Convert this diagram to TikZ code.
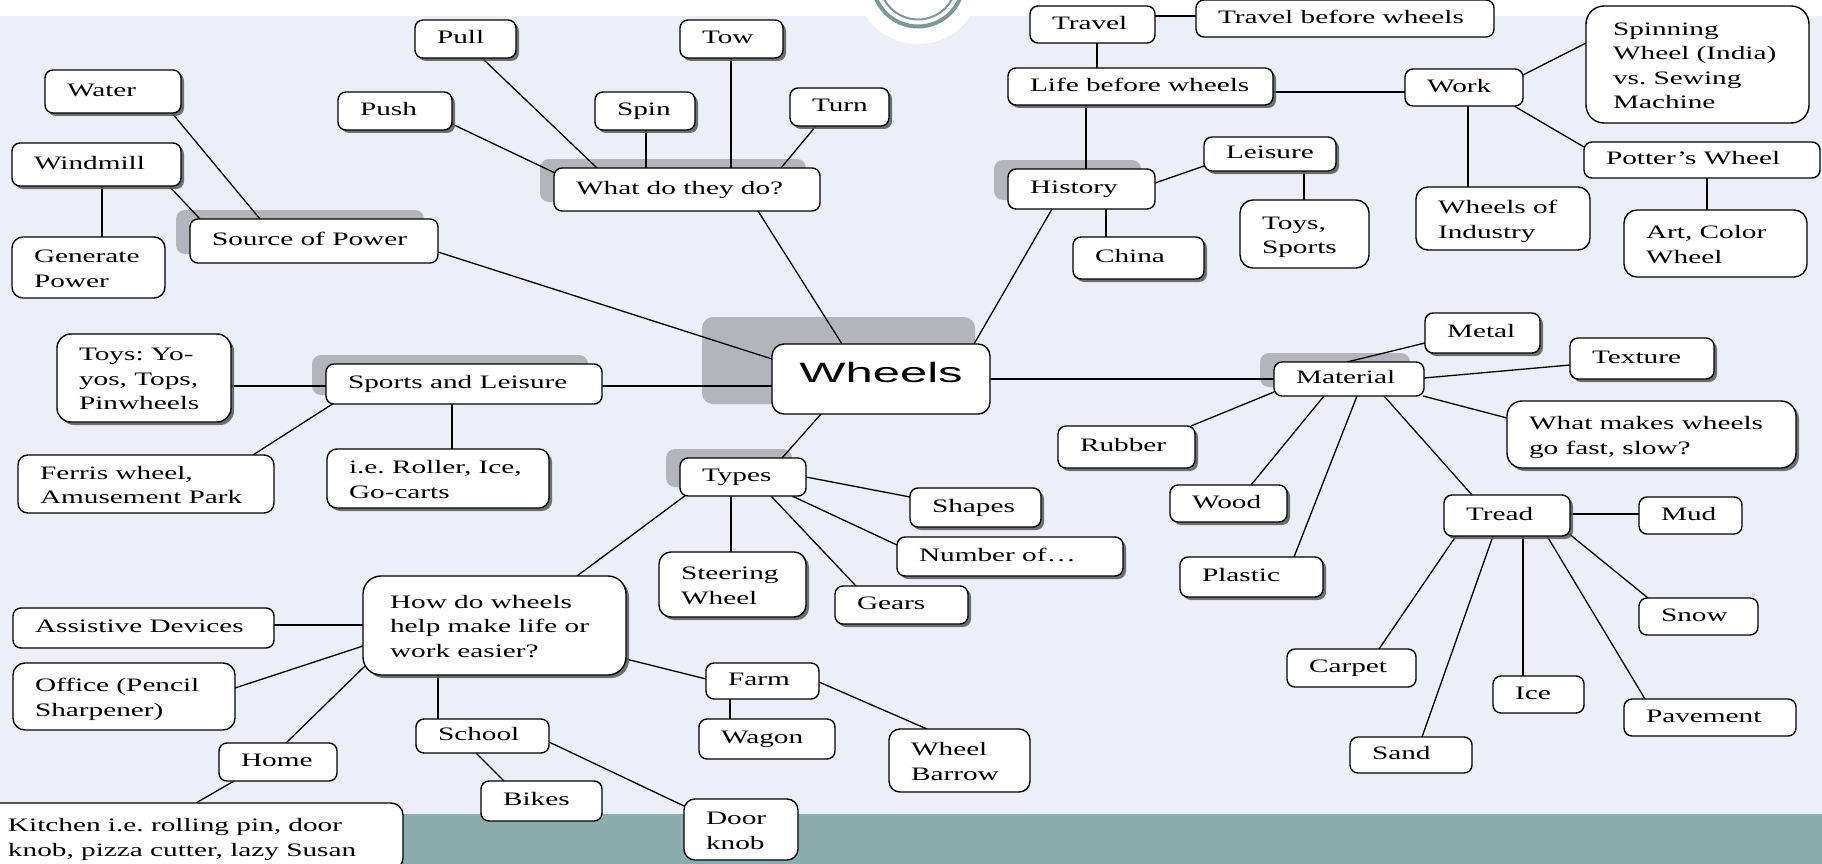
\documentclass[tikz,border=0pt]{standalone}
\usepackage{fontspec}
\setmainfont{Liberation Serif}[FakeStretch=1.54]
\newfontfamily\wheelsfont{Liberation Sans}[FakeStretch=1.75]
\usetikzlibrary{shadows}
\pgfdeclarelayer{bgzero}
\pgfdeclarelayer{bgone}
\pgfsetlayers{bgzero,bgone,main}
\definecolor{lav}{RGB}{236,239,248}
\definecolor{band}{RGB}{139,173,173}
\definecolor{ringc}{RGB}{122,154,154}
\definecolor{backd}{RGB}{180,181,188}
\newcommand\bxraise{0pt}
\tikzset{
  box/.style={draw=black, line width=1.4pt, fill=white, rounded corners=8pt,
    inner xsep=22pt, inner ysep=0pt, outer sep=0pt,
    font=\fontsize{19}{24.5}\selectfont\frenchspacing},
  ml/.code={\def\bxraise{-2.5pt}},
  hub/.style={draw=black, line width=1.4pt, fill=white, rounded corners=12pt,
    inner sep=0pt, outer sep=0pt, font=\wheelsfont\fontsize{28}{34}\selectfont},
  sh/.style={drop shadow={shadow xshift=3pt, shadow yshift=-3pt, fill=black!65, opacity=0.85}},
  conn/.style={draw=black, line width=1.3pt},
  backdrop/.style={fill=backd, rounded corners=9pt},
}
\newcommand\xind{\hspace*{5pt}}
\newcommand\bx[7][]{%
  \pgfmathsetmacro\bxw{#5-(#3)}%
  \pgfmathsetmacro\bxh{#6-(#4)}%
  \pgfmathsetmacro\bxt{#5-(#3)-44}%
  \pgfmathsetmacro\bxcx{((#3)+(#5))/2}%
  \pgfmathsetmacro\bxcy{((#4)+(#6))/2}%
  \node[box,#1,minimum width=\bxw pt,minimum height=\bxh pt] (#2) at (\bxcx,\bxcy)
    {\makebox[\bxt pt][l]{\raisebox{\bxraise}[\height][\depth]{\begin{tabular}{@{}l@{}}#7\end{tabular}}}};}
\begin{document}
\begin{tikzpicture}[x=1pt,y=-1pt]
\useasboundingbox (0,0) rectangle (1822,864);
% ---------- page background ----------
\begin{pgfonlayer}{bgzero}
  \fill[white] (0,0) rectangle (1822,864);
  \fill[lav] (0,16) rectangle (1822,864);
  \fill[band] (0,814) rectangle (1822,864);
  \fill[white] (918,-19) circle[radius=63pt];
  \draw[ringc, line width=4pt] (918,-19) circle[radius=45.5pt];
  \draw[ringc, line width=2pt] (918,-19) circle[radius=38.5pt];
\end{pgfonlayer}
% ---------- nodes ----------
\node[hub, minimum width=218pt, minimum height=70pt] (wheels) at (881,379)
  {\raisebox{7pt}[\height][\depth]{Wheels}};
\bx[sh]{pull}{415}{20}{516}{58}{Pull}
\bx[sh]{tow}{680}{20}{783}{58}{Tow}
\bx[sh]{push}{338}{92}{452}{130}{Push}
\bx[sh]{spin}{595}{92}{695}{130}{Spin}
\bx[sh]{turn}{790}{88}{889}{126}{Turn}
\bx{what}{554}{168}{820}{211}{What do they do?}
\bx[sh]{water}{45}{70}{181}{113}{Water}
\bx[sh]{windmill}{12}{143}{181}{186}{Windmill}
\bx[ml,rounded corners=11pt]{genpow}{12}{237}{165}{298}{Generate\\Power}
\bx{source}{190}{219}{438}{263}{Source of Power}
\bx{travel}{1030}{6}{1155}{43}{Travel}
\bx{travelb}{1196}{0}{1494}{37}{Travel before wheels}
\bx[sh]{life}{1008}{68}{1273}{105}{Life before wheels}
\bx{work}{1405}{69}{1523}{106}{Work}
\bx[ml,rounded corners=18pt]{spinning}{1586}{6}{1809}{123}{\xind Spinning\\\xind Wheel (India)\\\xind vs. Sewing\\\xind Machine}
\bx{potter}{1584}{142}{1820}{178}{Potter’s Wheel}
\bx[ml,rounded corners=12pt]{industry}{1416}{187}{1590}{250}{Wheels of\\Industry}
\bx[ml,rounded corners=13pt]{art}{1624}{210}{1807}{277}{Art, Color\\Wheel}
\bx{history}{1008}{169}{1155}{209}{History}
\bx[sh]{leisure}{1204}{137}{1336}{171}{Leisure}
\bx[ml,rounded corners=13pt]{toyssports}{1240}{200}{1369}{268}{Toys,\\Sports}
\bx[sh]{china}{1073}{237}{1204}{279}{China}
\bx{sports}{326}{364}{602}{404}{Sports and Leisure}
\bx[ml,sh,rounded corners=14pt]{toysyo}{57}{334}{231}{422}{Toys: Yo-\\yos, Tops,\\Pinwheels}
\bx[ml,rounded corners=10pt]{ferris}{18}{455}{274}{513}{Ferris wheel,\\Amusement Park}
\bx[ml,sh,rounded corners=10pt]{roller}{327}{449}{549}{508}{i.e. Roller, Ice,\\Go-carts}
\bx{types}{680}{458}{806}{496}{Types}
\bx[sh]{shapes}{910}{488}{1041}{527}{Shapes}
\bx[sh]{number}{897}{537}{1123}{576}{Number of…}
\bx[ml,sh,rounded corners=12pt]{steering}{659}{552}{806}{617}{Steering\\Wheel}
\bx[sh]{gears}{835}{586}{968}{624}{Gears}
\bx[ml,sh,rounded corners=18pt]{how}{363}{576}{626}{675}{\xind How do wheels\\\xind help make life or\\\xind work easier?}
\bx{assist}{13}{608}{274}{648}{Assistive Devices}
\bx[ml,rounded corners=12pt]{office}{13}{663}{235}{730}{Office (Pencil\\Sharpener)}
\bx{home}{219}{743}{337}{781}{Home}
\bx[ml,rounded corners=12pt]{kitchen}{-14}{803}{403}{870}{Kitchen i.e. rolling pin, door\\knob, pizza cutter, lazy Susan}
\bx{school}{416}{719}{549}{753}{School}
\bx{bikes}{481}{781}{602}{821}{Bikes}
\bx[ml,rounded corners=11pt]{door}{684}{799}{798}{860}{Door\\knob}
\bx{farm}{706}{663}{819}{699}{Farm}
\bx{wagon}{699}{719}{835}{759}{Wagon}
\bx[ml,rounded corners=11pt]{barrow}{889}{729}{1030}{792}{Wheel\\Barrow}
\bx{material}{1274}{362}{1424}{396}{Material}
\bx[sh]{metal}{1425}{313}{1540}{353}{Metal}
\bx[sh]{texture}{1570}{338}{1714}{379}{Texture}
\bx[ml,sh,rounded corners=15pt]{whatmakes}{1507}{401}{1796}{468}{What makes wheels\\go fast, slow?}
\bx[sh]{rubber}{1058}{426}{1195}{468}{Rubber}
\bx[sh]{wood}{1170}{485}{1287}{522}{Wood}
\bx[sh]{plastic}{1180}{557}{1323}{597}{Plastic}
\bx[sh]{tread}{1444}{495}{1570}{536}{Tread}
\bx{mud}{1639}{497}{1742}{534}{Mud}
\bx{snow}{1639}{598}{1758}{635}{Snow}
\bx{carpet}{1287}{649}{1416}{687}{Carpet}
\bx{ice}{1493}{676}{1584}{713}{Ice}
\bx{pavement}{1624}{699}{1796}{736}{Pavement}
\bx{sand}{1350}{737}{1472}{773}{Sand}
% ---------- backdrops and connectors ----------
\begin{pgfonlayer}{bgone}
  \path[backdrop] ([xshift=-14pt,yshift=9pt]source.north west) rectangle ([xshift=-14pt,yshift=9pt]source.south east);
  \path[backdrop] ([xshift=-14pt,yshift=9pt]what.north west) rectangle ([xshift=-14pt,yshift=9pt]what.south east);
  \path[backdrop] ([xshift=-14pt,yshift=9pt]history.north west) rectangle ([xshift=-14pt,yshift=9pt]history.south east);
  \path[backdrop] ([xshift=-14pt,yshift=9pt]sports.north west) rectangle ([xshift=-14pt,yshift=9pt]sports.south east);
  \path[backdrop] ([xshift=-14pt,yshift=9pt]types.north west) rectangle ([xshift=-14pt,yshift=9pt]types.south east);
  \path[backdrop] ([xshift=-14pt,yshift=9pt]material.north west) rectangle ([xshift=-14pt,yshift=9pt]material.south east);
  \path[backdrop, rounded corners=11pt] ([xshift=-70pt,yshift=27pt]wheels.north west) rectangle ([xshift=-15pt,yshift=10pt]wheels.south east);

  \path[conn] ([xshift=127pt,yshift=-43pt]water.north west) -- ([xshift=70pt]source.north west);
  \path[conn] ([xshift=157pt,yshift=-43pt]windmill.north west) -- ([xshift=10pt]source.north west);
  \path[conn] ([xshift=90pt,yshift=-43pt]windmill.north west) -- ([xshift=90pt]genpow.north west);
  \path[conn] ([xshift=114pt,yshift=-32pt]push.north west) -- ([xshift=1pt,yshift=-5pt]what.north west);
  \path[conn] ([xshift=67pt,yshift=-38pt]pull.north west) -- ([xshift=43pt]what.north west);
  \path[conn] ([xshift=51pt,yshift=-38pt]spin.north west) -- ([xshift=92pt]what.north west);
  \path[conn] ([xshift=51pt,yshift=-38pt]tow.north west) -- ([xshift=177pt]what.north west);
  \path[conn] ([xshift=26pt,yshift=-38pt]turn.north west) -- ([xshift=227pt]what.north west);
  \path[conn] ([xshift=204pt,yshift=-43pt]what.north west) -- ([xshift=70pt]wheels.north west);
  \path[conn] ([xshift=248pt,yshift=-33pt]source.north west) -- ([yshift=-15pt]wheels.north west);
  \path[conn] ([xshift=125pt,yshift=-10pt]travel.north west) -- ([yshift=-16pt]travelb.north west);
  \path[conn] ([xshift=67pt,yshift=-37pt]travel.north west) -- ([xshift=89pt]life.north west);
  \path[conn] ([xshift=78pt,yshift=-37pt]life.north west) -- ([xshift=78pt]history.north west);
  \path[conn] ([xshift=265pt,yshift=-24pt]life.north west) -- ([yshift=-23pt]work.north west);
  \path[conn] ([xshift=118pt,yshift=-6pt]work.north west) -- ([yshift=-37pt]spinning.north west);
  \path[conn] ([xshift=109pt,yshift=-37pt]work.north west) -- ([yshift=-5pt]potter.north west);
  \path[conn] ([xshift=63pt,yshift=-37pt]work.north west) -- ([xshift=52pt]industry.north west);
  \path[conn] ([xshift=123pt,yshift=-36pt]potter.north west) -- ([xshift=83pt]art.north west);
  \path[conn] ([xshift=147pt,yshift=-14pt]history.north west) -- ([yshift=-29pt]leisure.north west);
  \path[conn] ([xshift=100pt,yshift=-34pt]leisure.north west) -- ([xshift=64pt]toyssports.north west);
  \path[conn] ([xshift=98pt,yshift=-40pt]history.north west) -- ([xshift=33pt]china.north west);
  \path[conn] ([xshift=44pt,yshift=-40pt]history.north west) -- ([xshift=202pt]wheels.north west);
  \path[conn] ([xshift=174pt,yshift=-52pt]toysyo.north west) -- ([yshift=-22pt]sports.north west);
  \path[conn] ([xshift=8pt,yshift=-39pt]sports.north west) -- ([xshift=235pt]ferris.north west);
  \path[conn] ([xshift=126pt,yshift=-40pt]sports.north west) -- ([xshift=125pt]roller.north west);
  \path[conn] ([xshift=276pt,yshift=-22pt]sports.north west) -- ([yshift=-42pt]wheels.north west);
  \path[conn] ([xshift=218pt,yshift=-35pt]wheels.north west) -- ([yshift=-17pt]material.north west);
  \path[conn] ([xshift=49pt,yshift=-70pt]wheels.north west) -- ([xshift=102pt]types.north west);
  \path[conn] ([xshift=126pt,yshift=-19pt]types.north west) -- ([yshift=-9pt]shapes.north west);
  \path[conn] ([xshift=112pt,yshift=-38pt]types.north west) -- ([yshift=-8pt]number.north west);
  \path[conn] ([xshift=51pt,yshift=-38pt]types.north west) -- ([xshift=72pt]steering.north west);
  \path[conn] ([xshift=91pt,yshift=-38pt]types.north west) -- ([xshift=21pt]gears.north west);
  \path[conn] ([xshift=6pt,yshift=-37pt]types.north west) -- ([xshift=214pt]how.north west);
  \path[conn] ([xshift=73pt]material.north west) -- ([yshift=-30pt]metal.north west);
  \path[conn] ([xshift=150pt,yshift=-16pt]material.north west) -- ([yshift=-27pt]texture.north west);
  \path[conn] ([xshift=149pt,yshift=-34pt]material.north west) -- ([yshift=-17pt]whatmakes.north west);
  \path[conn] ([yshift=-30pt]material.north west) -- ([xshift=133pt]rubber.north west);
  \path[conn] ([xshift=50pt,yshift=-34pt]material.north west) -- ([xshift=81pt]wood.north west);
  \path[conn] ([xshift=83pt,yshift=-34pt]material.north west) -- ([xshift=114pt]plastic.north west);
  \path[conn] ([xshift=110pt,yshift=-34pt]material.north west) -- ([xshift=28pt]tread.north west);
  \path[conn] ([xshift=126pt,yshift=-19pt]tread.north west) -- ([yshift=-17pt]mud.north west);
  \path[conn] ([xshift=12pt,yshift=-41pt]tread.north west) -- ([xshift=92pt]carpet.north west);
  \path[conn] ([xshift=49pt,yshift=-41pt]tread.north west) -- ([xshift=72pt]sand.north west);
  \path[conn] ([xshift=79pt,yshift=-41pt]tread.north west) -- ([xshift=30pt]ice.north west);
  \path[conn] ([xshift=103pt,yshift=-41pt]tread.north west) -- ([xshift=21pt]pavement.north west);
  \path[conn] ([xshift=124pt,yshift=-38pt]tread.north west) -- ([xshift=9pt]snow.north west);
  \path[conn] ([yshift=-49pt]how.north west) -- ([xshift=261pt,yshift=-17pt]assist.north west);
  \path[conn] ([yshift=-70pt]how.north west) -- ([xshift=222pt,yshift=-25pt]office.north west);
  \path[conn] ([xshift=3pt,yshift=-89pt]how.north west) -- ([xshift=67pt]home.north west);
  \path[conn] ([xshift=15pt,yshift=-38pt]home.north west) -- ([xshift=210pt]kitchen.north west);
  \path[conn] ([xshift=75pt,yshift=-99pt]how.north west) -- ([xshift=22pt]school.north west);
  \path[conn] ([xshift=60pt,yshift=-34pt]school.north west) -- ([xshift=23pt]bikes.north west);
  \path[conn] ([xshift=133pt,yshift=-23pt]school.north west) -- ([yshift=-7pt]door.north west);
  \path[conn] ([xshift=263pt,yshift=-83pt]how.north west) -- ([yshift=-16pt]farm.north west);
  \path[conn] ([xshift=24pt,yshift=-36pt]farm.north west) -- ([xshift=31pt]wagon.north west);
  \path[conn] ([xshift=113pt,yshift=-19pt]farm.north west) -- ([xshift=38pt]barrow.north west);
\end{pgfonlayer}
\end{tikzpicture}
\end{document}
